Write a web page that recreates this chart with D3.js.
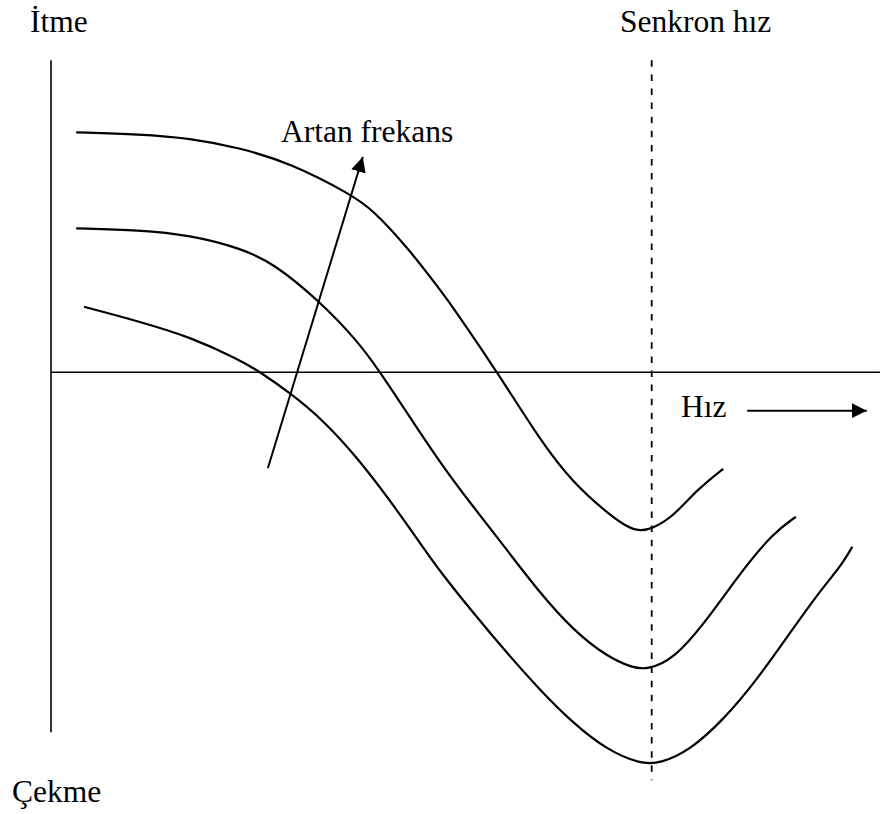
<!DOCTYPE html>
<html>
<head>
<meta charset="utf-8">
<script src="https://cdn.jsdelivr.net/npm/d3@7"></script>
<style>
  html, body { margin: 0; padding: 0; background: #fff; }
  #chart { width: 884px; height: 814px; }
  .label { font-family: "Liberation Serif", "Times New Roman", serif; font-size: 31.5px; fill: #000; }
</style>
</head>
<body>
<div id="chart"></div>
<script>

// speed (1 = synchronous speed) and torque (1 = top curve at standstill)
var speed1 = [0.042, 0.148, 0.231, 0.315, 0.398, 0.501, 0.536, 0.593, 0.648, 0.669, 0.743, 0.814, 0.869, 0.926, 0.959, 0.981, 1.000, 1.035, 1.075, 1.119];
var torque1 = [1.000, 0.992, 0.976, 0.935, 0.872, 0.739, 0.676, 0.522, 0.343, 0.272, 0.001, -0.282, -0.461, -0.586, -0.645, -0.662, -0.652, -0.603, -0.490, -0.402];

var speed2 = [0.042, 0.148, 0.231, 0.315, 0.370, 0.445, 0.509, 0.548, 0.593, 0.648, 0.703, 0.759, 0.814, 0.869, 0.926, 0.969, 0.992, 1.035, 1.092, 1.147, 1.202, 1.240];
var torque2 = [0.600, 0.593, 0.572, 0.518, 0.455, 0.301, 0.135, 0.001, -0.170, -0.378, -0.561, -0.740, -0.920, -1.074, -1.186, -1.232, -1.238, -1.200, -1.033, -0.837, -0.670, -0.602];

var speed3 = [0.055, 0.148, 0.231, 0.315, 0.348, 0.398, 0.453, 0.509, 0.564, 0.619, 0.648, 0.703, 0.759, 0.814, 0.869, 0.926, 0.981, 1.014, 1.064, 1.119, 1.175, 1.230, 1.285, 1.314, 1.334];
var torque3 = [0.273, 0.211, 0.148, 0.051, 0.001, -0.086, -0.199, -0.353, -0.532, -0.728, -0.831, -1.003, -1.170, -1.324, -1.462, -1.574, -1.632, -1.630, -1.574, -1.449, -1.282, -1.086, -0.895, -0.811, -0.727];

var syncSpeed = 1;
var freqArrow = [[0.361, -0.400], [0.519, 0.897]];
var speedArrow = [[1.159, -0.160], [1.358, -0.160]];

var labels = ["İtme", "Senkron hız", "Artan frekans", "Hız", "Çekme"];

var width = 884;
var height = 814;

var svg = d3.select("#chart")
  .append("svg")
  .attr("width", width)
  .attr("height", height);

var xScale = d3.scaleLinear()
  .domain([0, 1])
  .range([51, 651.7]);

var yScale = d3.scaleLinear()
  .domain([0, 1])
  .range([372.3, 132.3]);

svg.append("defs").append("marker")
  .attr("id", "head")
  .attr("markerUnits", "userSpaceOnUse")
  .attr("viewBox", "0 -8 16 16")
  .attr("refX", 15)
  .attr("refY", 0)
  .attr("markerWidth", 16)
  .attr("markerHeight", 16)
  .attr("orient", "auto")
  .append("path")
    .attr("d", "M0,-7.5L15,0L0,7.5Z")
    .attr("fill", "#000");

// axes
svg.append("line")
  .attr("x1", xScale(0)).attr("x2", xScale(0))
  .attr("y1", yScale(1.3)).attr("y2", yScale(-1.5))
  .attr("stroke", "#000")
  .attr("stroke-width", 1.6);

svg.append("line")
  .attr("x1", xScale(0)).attr("x2", xScale(1.38))
  .attr("y1", yScale(0)).attr("y2", yScale(0))
  .attr("stroke", "#000")
  .attr("stroke-width", 1.6);

// synchronous speed
svg.append("line")
  .attr("x1", xScale(syncSpeed)).attr("x2", xScale(syncSpeed))
  .attr("y1", yScale(1.3)).attr("y2", yScale(-1.7))
  .attr("stroke", "#000")
  .attr("stroke-width", 1.8)
  .attr("stroke-dasharray", "6.5,7.6");

var line = d3.line()
  .x(function(d) { return xScale(d[0]); })
  .y(function(d) { return yScale(d[1]); })
  .curve(d3.curveBasis);

var curves = [
  d3.zip(speed1, torque1),
  d3.zip(speed2, torque2),
  d3.zip(speed3, torque3)
];

svg.selectAll("path.curve")
  .data(curves)
  .enter()
  .append("path")
    .attr("class", "curve")
    .attr("d", line)
    .attr("fill", "none")
    .attr("stroke", "#000")
    .attr("stroke-width", 2.2);

var arrowLine = d3.line()
  .x(function(d) { return xScale(d[0]); })
  .y(function(d) { return yScale(d[1]); });

svg.selectAll("path.arrow")
  .data([freqArrow, speedArrow])
  .enter()
  .append("path")
    .attr("class", "arrow")
    .attr("d", arrowLine)
    .attr("fill", "none")
    .attr("stroke", "#000")
    .attr("stroke-width", 2)
    .attr("marker-end", "url(#head)");

// text
var labelPos = [[30, 32], [620, 32], [281, 142], [681, 417], [12, 802]];

svg.selectAll("text.label")
  .data(labels)
  .enter()
  .append("text")
    .attr("class", "label")
    .attr("x", function(d, i) { return labelPos[i][0]; })
    .attr("y", function(d, i) { return labelPos[i][1]; })
    .text(function(d) { return d; });

</script>
</body>
</html>
